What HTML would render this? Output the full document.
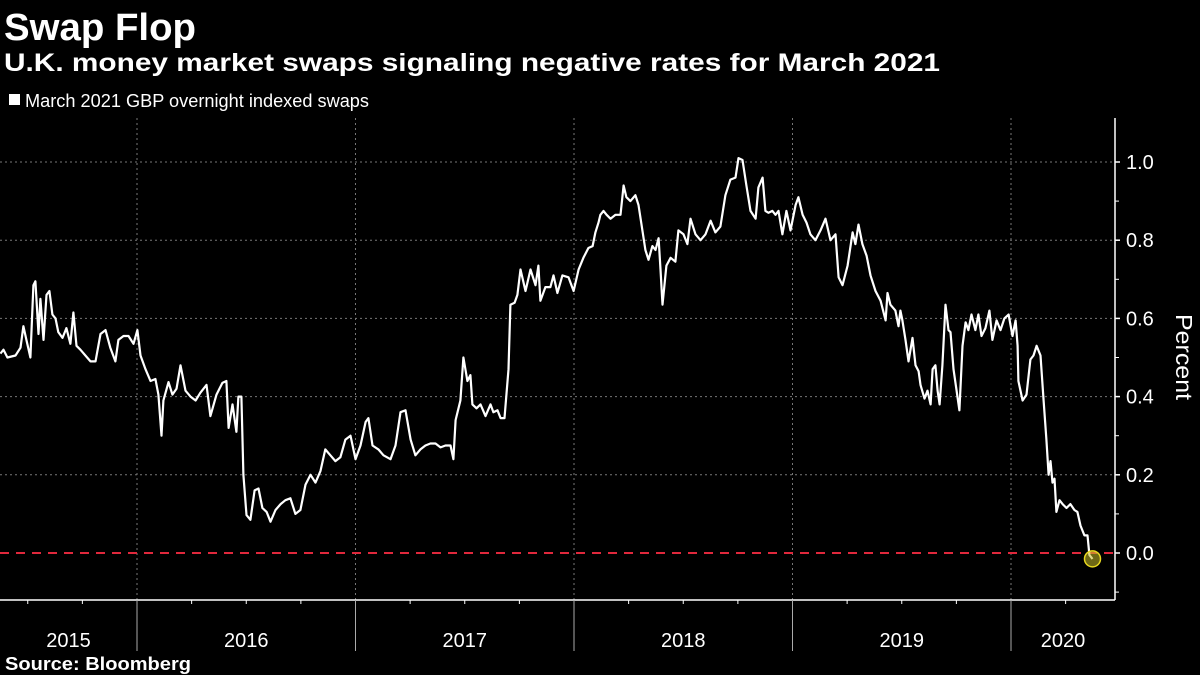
<!DOCTYPE html>
<html><head><meta charset="utf-8"><style>
html,body{margin:0;padding:0;background:#000;}
svg{display:block;font-family:"Liberation Sans",sans-serif;}
</style></head><body>
<svg id="chart" width="1200" height="675" viewBox="0 0 1200 675">
<rect x="0" y="0" width="1200" height="675" fill="#000"/>
<text x="4" y="40" fill="#fff" font-size="38" font-weight="bold" textLength="192" lengthAdjust="spacingAndGlyphs">Swap Flop</text>
<text x="4" y="71" fill="#fff" font-size="25" font-weight="bold" textLength="936" lengthAdjust="spacingAndGlyphs">U.K. money market swaps signaling negative rates for March 2021</text>
<rect x="9" y="94" width="11" height="11" fill="#fff"/>
<text x="25" y="107" fill="#fff" font-size="18" textLength="344" lengthAdjust="spacingAndGlyphs">March 2021 GBP overnight indexed swaps</text>
<g id="grid"></g>
<g id="axes"></g>
<g id="series"></g>
<text x="0" y="0" fill="#fff" font-size="23" textLength="86" lengthAdjust="spacingAndGlyphs" transform="translate(1176,314) rotate(90)">Percent</text>
<text x="5" y="670" fill="#fff" font-size="18" font-weight="bold" textLength="186" lengthAdjust="spacingAndGlyphs">Source: Bloomberg</text>
</svg>
<script>
const dates=[2015.375,2015.389,2015.407,2015.444,2015.467,2015.480,2015.494,2015.512,2015.526,2015.535,2015.549,2015.558,2015.572,2015.586,2015.599,2015.613,2015.627,2015.640,2015.659,2015.677,2015.695,2015.709,2015.723,2015.741,2015.764,2015.787,2015.810,2015.833,2015.856,2015.878,2015.901,2015.915,2015.938,2015.961,2015.984,2016.002,2016.016,2016.039,2016.062,2016.084,2016.098,2016.112,2016.121,2016.144,2016.162,2016.181,2016.199,2016.222,2016.245,2016.268,2016.290,2016.318,2016.336,2016.364,2016.391,2016.409,2016.419,2016.437,2016.455,2016.464,2016.478,2016.487,2016.501,2016.519,2016.538,2016.556,2016.574,2016.593,2016.611,2016.634,2016.657,2016.679,2016.702,2016.725,2016.748,2016.771,2016.794,2016.817,2016.840,2016.862,2016.885,2016.908,2016.931,2016.954,2016.977,2017.000,2017.023,2017.046,2017.059,2017.078,2017.105,2017.128,2017.160,2017.183,2017.206,2017.229,2017.252,2017.274,2017.297,2017.320,2017.343,2017.366,2017.389,2017.412,2017.435,2017.448,2017.458,2017.480,2017.494,2017.512,2017.526,2017.535,2017.554,2017.572,2017.595,2017.618,2017.631,2017.650,2017.664,2017.682,2017.700,2017.709,2017.728,2017.741,2017.755,2017.778,2017.801,2017.824,2017.837,2017.846,2017.869,2017.892,2017.906,2017.924,2017.947,2017.975,2017.998,2018.021,2018.043,2018.066,2018.085,2018.098,2018.112,2018.121,2018.135,2018.149,2018.167,2018.190,2018.213,2018.227,2018.240,2018.258,2018.281,2018.295,2018.309,2018.327,2018.341,2018.359,2018.373,2018.387,2018.396,2018.405,2018.423,2018.442,2018.464,2018.478,2018.501,2018.519,2018.533,2018.556,2018.579,2018.602,2018.625,2018.647,2018.670,2018.693,2018.716,2018.739,2018.753,2018.771,2018.789,2018.808,2018.831,2018.844,2018.863,2018.876,2018.890,2018.908,2018.922,2018.936,2018.954,2018.972,2018.991,2019.014,2019.027,2019.046,2019.064,2019.082,2019.105,2019.128,2019.151,2019.174,2019.197,2019.211,2019.229,2019.252,2019.275,2019.288,2019.302,2019.320,2019.339,2019.357,2019.380,2019.403,2019.426,2019.435,2019.448,2019.471,2019.485,2019.494,2019.503,2019.517,2019.531,2019.549,2019.563,2019.577,2019.586,2019.604,2019.618,2019.632,2019.641,2019.654,2019.664,2019.673,2019.686,2019.700,2019.714,2019.723,2019.737,2019.751,2019.764,2019.778,2019.792,2019.805,2019.819,2019.837,2019.851,2019.865,2019.883,2019.901,2019.915,2019.934,2019.952,2019.970,2019.989,2020.007,2020.021,2020.030,2020.034,2020.053,2020.071,2020.089,2020.103,2020.117,2020.135,2020.149,2020.162,2020.172,2020.181,2020.190,2020.199,2020.208,2020.222,2020.236,2020.254,2020.272,2020.290,2020.304,2020.318,2020.336,2020.350,2020.359,2020.373];
const values=[0.51,0.52,0.50,0.505,0.525,0.58,0.545,0.50,0.685,0.695,0.56,0.65,0.545,0.66,0.67,0.61,0.60,0.565,0.55,0.575,0.535,0.615,0.53,0.52,0.505,0.49,0.49,0.56,0.57,0.525,0.49,0.545,0.555,0.555,0.535,0.57,0.505,0.47,0.44,0.445,0.405,0.30,0.39,0.437,0.405,0.42,0.48,0.415,0.40,0.39,0.41,0.43,0.35,0.405,0.435,0.44,0.32,0.38,0.31,0.40,0.40,0.20,0.097,0.085,0.16,0.165,0.115,0.105,0.08,0.11,0.125,0.135,0.14,0.10,0.11,0.175,0.20,0.18,0.21,0.265,0.25,0.235,0.245,0.29,0.30,0.24,0.275,0.335,0.345,0.275,0.265,0.25,0.24,0.275,0.36,0.365,0.29,0.25,0.265,0.275,0.28,0.28,0.27,0.275,0.275,0.24,0.34,0.39,0.50,0.44,0.455,0.38,0.37,0.38,0.35,0.38,0.36,0.365,0.345,0.345,0.47,0.635,0.64,0.66,0.725,0.67,0.725,0.685,0.735,0.645,0.68,0.68,0.71,0.665,0.71,0.705,0.67,0.725,0.755,0.78,0.785,0.82,0.845,0.865,0.875,0.865,0.855,0.865,0.865,0.94,0.91,0.90,0.915,0.89,0.84,0.775,0.75,0.785,0.775,0.805,0.725,0.635,0.735,0.755,0.745,0.825,0.815,0.79,0.855,0.815,0.80,0.815,0.85,0.82,0.835,0.915,0.955,0.96,1.01,1.005,0.94,0.875,0.855,0.935,0.96,0.875,0.87,0.875,0.865,0.875,0.815,0.875,0.825,0.89,0.91,0.865,0.845,0.815,0.80,0.825,0.855,0.80,0.815,0.705,0.685,0.735,0.82,0.79,0.84,0.79,0.76,0.71,0.67,0.645,0.595,0.665,0.635,0.62,0.58,0.62,0.595,0.545,0.49,0.55,0.48,0.465,0.43,0.395,0.415,0.38,0.47,0.48,0.415,0.38,0.48,0.635,0.57,0.565,0.47,0.415,0.365,0.53,0.59,0.57,0.61,0.57,0.61,0.555,0.575,0.62,0.545,0.595,0.57,0.60,0.61,0.555,0.595,0.53,0.44,0.39,0.405,0.495,0.505,0.53,0.505,0.39,0.29,0.20,0.235,0.18,0.19,0.105,0.135,0.125,0.115,0.125,0.11,0.105,0.07,0.045,0.045,-0.005,-0.015];
const yTicks=[0.0,0.2,0.4,0.6,0.8,1.0];
const yTickLabels=["0.0","0.2","0.4","0.6","0.8","1.0"];
const yMinorTicks=[-0.1,0.1,0.3,0.5,0.7,0.9];
const years=[2015,2016,2017,2018,2019,2020];
const yearLabels=["2015","2016","2017","2018","2019","2020"];

const NS="http://www.w3.org/2000/svg";
const PL=0,PR=1115,PT=118,PB=600;
function xs(t){return 137+(t-2016)*218.5;}
function ys(v){return 553-v*391;}
function mk(parent,tag,attrs){const e=document.createElementNS(NS,tag);for(const k in attrs)e.setAttribute(k,attrs[k]);parent.appendChild(e);return e;}
const grid=document.getElementById('grid'),axes=document.getElementById('axes'),series=document.getElementById('series');

yTicks.forEach((v,i)=>{
  if(v!==0){
    const g=mk(grid,'line',{x1:PL,x2:PR,y1:ys(v),y2:ys(v),stroke:'#777','stroke-width':1,'stroke-dasharray':'2 3'});
    
    
  }
  const tk=mk(axes,'line',{x1:PR,x2:PR+5,y1:ys(v),y2:ys(v),stroke:'#fff','stroke-width':1.5});
  
  
  const lb=mk(axes,'text',{x:PR+11,y:ys(v)+7,fill:'#fff','font-size':20});
  lb.textContent=yTickLabels[i];
  
  
});
yMinorTicks.forEach(v=>{
  const tk=mk(axes,'line',{x1:PR,x2:PR+4,y1:ys(v),y2:ys(v),stroke:'#fff','stroke-width':1});
  
  
});
const xa=mk(axes,'line',{x1:PL,x2:PR,y1:PB,y2:PB,stroke:'#fff','stroke-width':1.5});


const ya=mk(axes,'line',{x1:PR,x2:PR,y1:PT,y2:PB,stroke:'#fff','stroke-width':1.5});


years.forEach((yr,i)=>{
  const x=xs(yr);
  if(x>PL&&x<PR){
    const g=mk(grid,'line',{x1:x,x2:x,y1:PT,y2:PB,stroke:'#777','stroke-width':1,'stroke-dasharray':'2 3'});
    
    
    const s=mk(axes,'line',{x1:x,x2:x,y1:PB,y2:651,stroke:'#aaa','stroke-width':1});
    
    
  }
  for(let q=1;q<4;q++){
    const qx=xs(yr+q/4);
    if(qx>PL&&qx<PR){
      const t=mk(axes,'line',{x1:qx,x2:qx,y1:PB,y2:PB+4,stroke:'#fff','stroke-width':1});
      
      
    }
  }
  const a=Math.max(PL,xs(yr)),b=Math.min(PR,xs(yr+1));
  const lb=mk(axes,'text',{x:(a+b)/2,y:647,fill:'#fff','font-size':20,'text-anchor':'middle'});
  lb.textContent=yearLabels[i];
  
  
});
const z=mk(series,'line',{x1:PL,x2:PR,y1:ys(0),y2:ys(0),stroke:'#e0283c','stroke-width':2,'stroke-dasharray':'9 7'});


let d='';
dates.forEach((t,i)=>{d+=(i?'L':'M')+xs(t).toFixed(1)+' '+ys(values[i]).toFixed(1);});
const p=mk(series,'path',{d:d,fill:'none',stroke:'#fff','stroke-width':2.2,'stroke-linejoin':'round'});


const n=dates.length-1;
const c=mk(series,'circle',{cx:xs(dates[n]),cy:ys(values[n]),r:8,fill:'rgba(200,190,40,0.55)',stroke:'#e8d820','stroke-width':1.5});


</script>
</body></html>
